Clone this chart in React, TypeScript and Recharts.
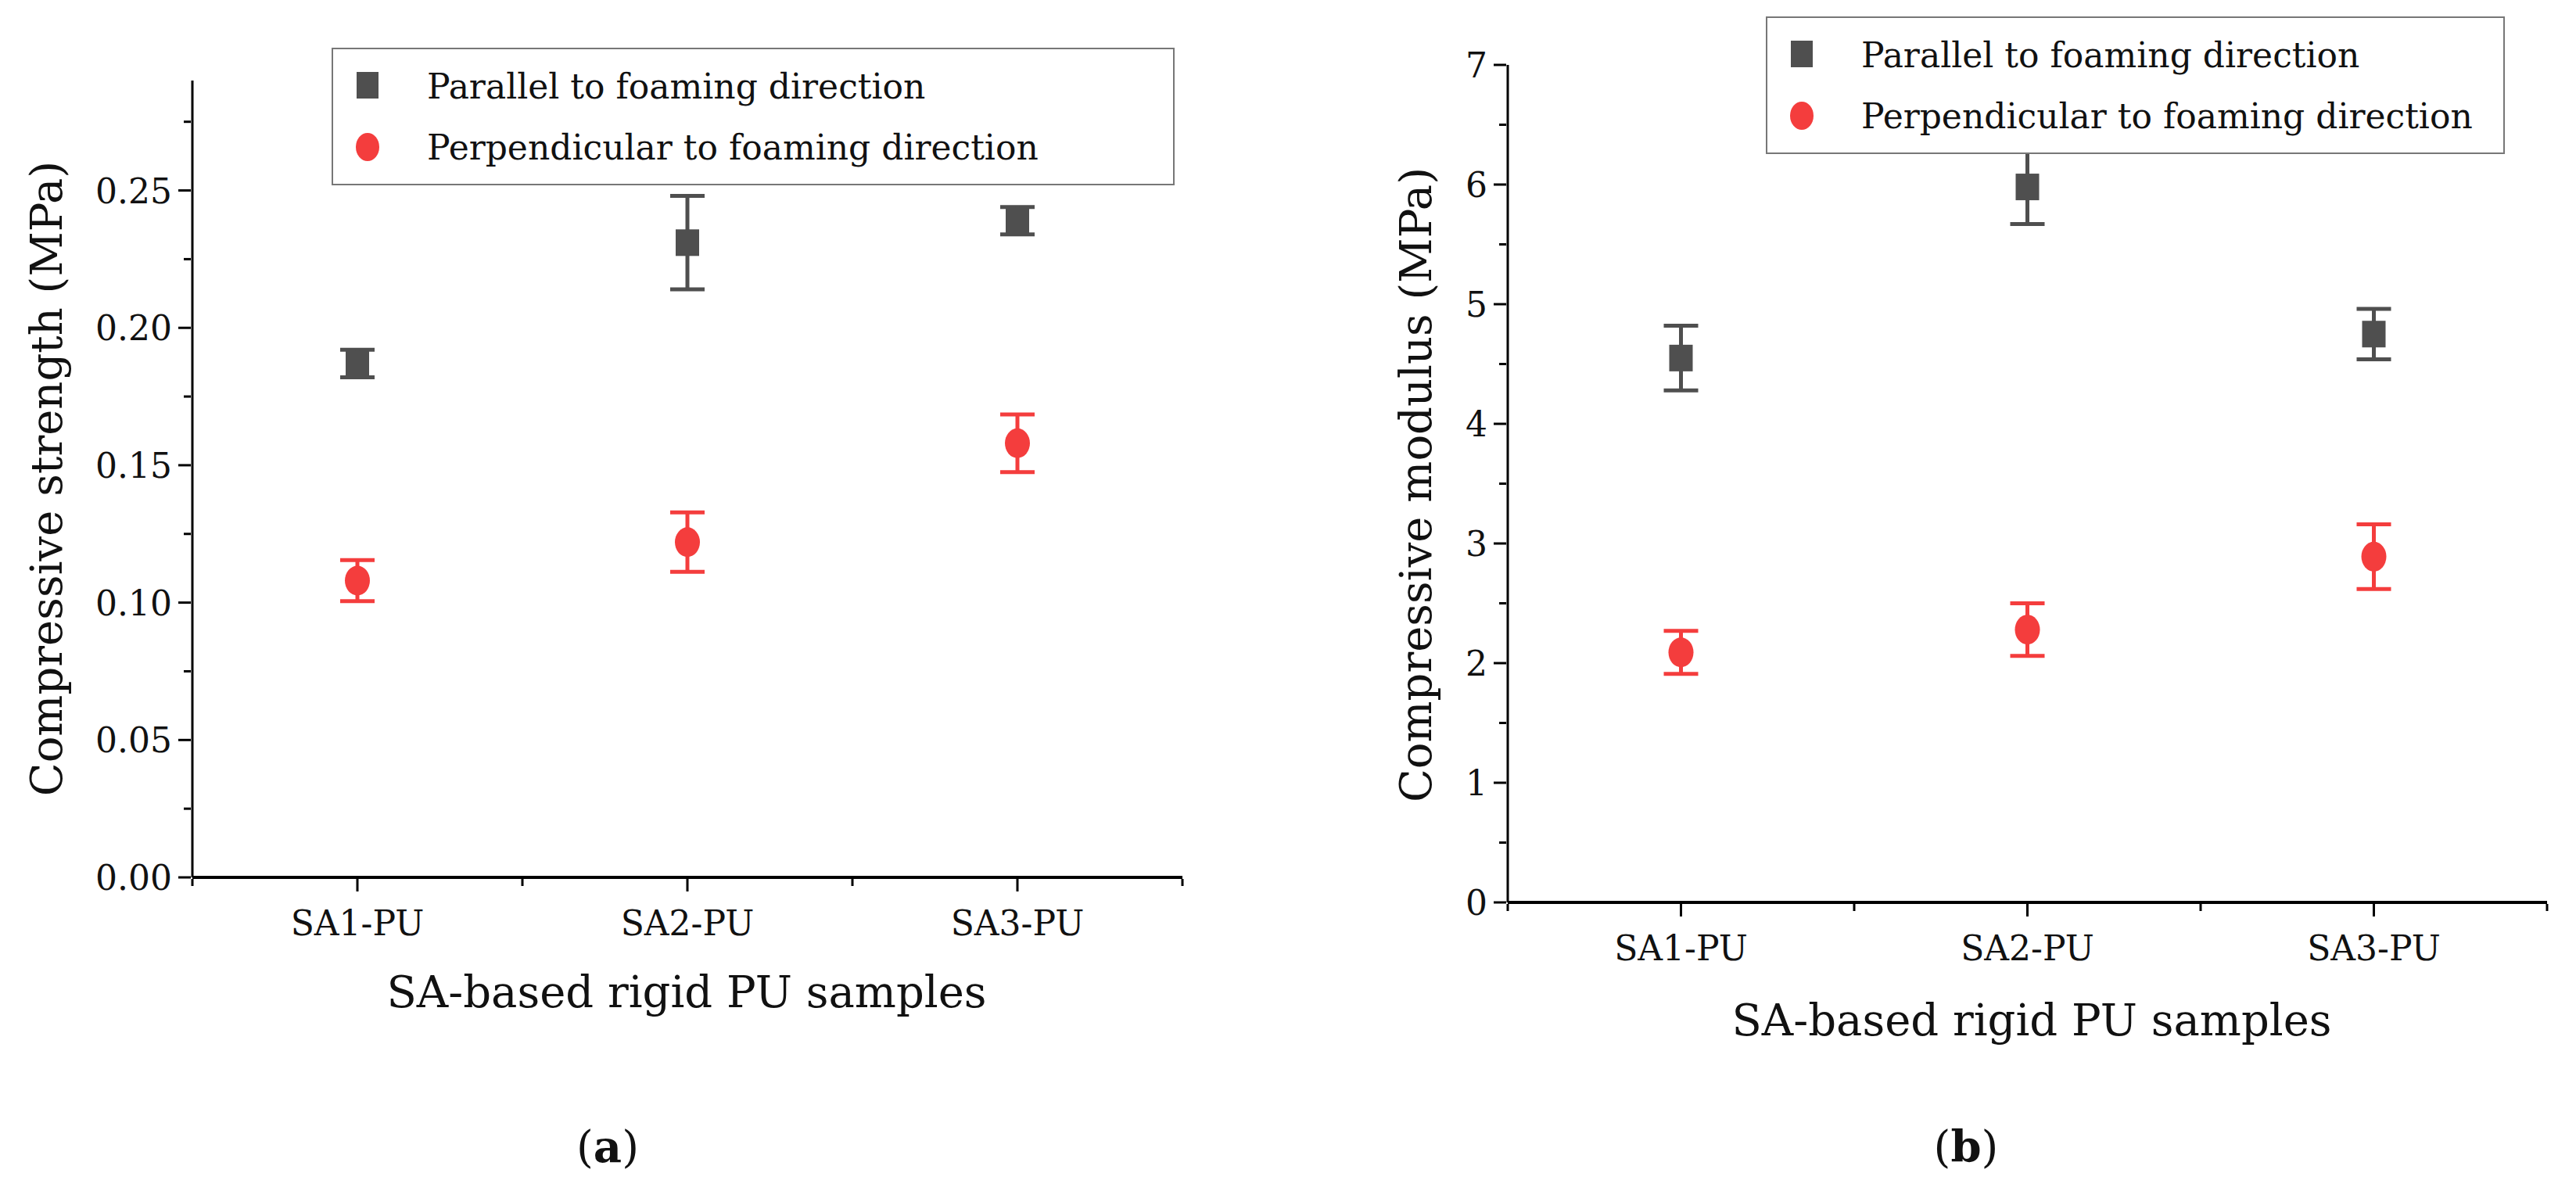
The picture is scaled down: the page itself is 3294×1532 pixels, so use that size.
import React from 'react';
import { ComposedChart, Scatter, XAxis, YAxis, ErrorBar } from 'recharts';

const samples = ['SA1-PU', 'SA2-PU', 'SA3-PU'];

const strengthParallel = [0.187, 0.231, 0.239];
const strengthParallelErr = [0.005, 0.017, 0.005];
const strengthPerp = [0.108, 0.122, 0.158];
const strengthPerpErr = [0.0075, 0.0108, 0.0105];

const modulusParallel = [4.55, 5.98, 4.75];
const modulusParallelErr = [0.27, 0.31, 0.21];
const modulusPerp = [2.09, 2.28, 2.89];
const modulusPerpErr = [0.18, 0.22, 0.27];

const strengthTicks = [0, 0.025, 0.05, 0.075, 0.1, 0.125, 0.15, 0.175, 0.2, 0.225, 0.25, 0.275];
const modulusTicks = [0, 0.5, 1, 1.5, 2, 2.5, 3, 3.5, 4, 4.5, 5, 5.5, 6, 6.5, 7];
const xTicks = [0.5, 1, 1.5, 2, 2.5, 3, 3.5];

const GREY = '#4f4f4f';
const RED = '#f43d3d';
const FONT = '"DejaVu Serif", serif';

const rows = (vals: number[], errs: number[]) =>
  vals.map((v, i) => ({ x: i + 1, y: v, err: errs[i] }));

const Square = (p: any) => (
  <rect x={p.cx - 15} y={p.cy - 17} width={30} height={34} fill={GREY} />
);
const Dot = (p: any) => <ellipse cx={p.cx} cy={p.cy} rx={16} ry={19} fill={RED} />;

const YTick = (fmt: (v: number) => string, isMajor: (v: number) => boolean) => (p: any) => {
  const v = p.payload.value;
  const major = isMajor(v);
  return (
    <g>
      <line x1={p.x} x2={p.x - (major ? 16 : 9)} y1={p.y} y2={p.y} stroke="#000" strokeWidth={3} />
      {major && (
        <text x={p.x - 24} y={p.y} dy={16} textAnchor="end" fontFamily={FONT} fontSize={44} fill="#111">
          {fmt(v)}
        </text>
      )}
    </g>
  );
};

const XTick = (p: any) => {
  const v = p.payload.value;
  const major = Number.isInteger(v);
  return (
    <g>
      <line x1={p.x} x2={p.x} y1={p.y} y2={p.y + (major ? 16 : 9)} stroke="#000" strokeWidth={3} />
      {major && (
        <text x={p.x} y={p.y + 72} textAnchor="middle" fontFamily={FONT} fontSize={44} fill="#111">
          {samples[v - 1]}
        </text>
      )}
    </g>
  );
};

const LegendBox = ({ left, top, w }: { left: number; top: number; w: number }) => (
  <div
    style={{
      position: 'absolute',
      left,
      top,
      width: w,
      border: '2px solid #777',
      background: '#fff',
      padding: '8px 0',
      fontFamily: FONT,
      fontSize: 44,
      color: '#111',
      whiteSpace: 'nowrap',
    }}
  >
    <div style={{ display: 'flex', alignItems: 'center', height: 78 }}>
      <svg width={90} height={40}><rect x={30} y={2} width={28} height={34} fill={GREY} /></svg>
      <span style={{ marginLeft: 30 }}>Parallel to foaming direction</span>
    </div>
    <div style={{ display: 'flex', alignItems: 'center', height: 78 }}>
      <svg width={90} height={40}><ellipse cx={44} cy={20} rx={15} ry={18} fill={RED} /></svg>
      <span style={{ marginLeft: 30 }}>Perpendicular to foaming direction</span>
    </div>
  </div>
);

type PanelProps = {
  left: number;
  width: number;
  margin: { top: number; right: number; bottom: number; left: number };
  domain: [number, number];
  ticks: number[];
  fmt: (v: number) => string;
  isMajor: (v: number) => boolean;
  par: any[];
  perp: any[];
};

const Panel = ({ left, width, margin, domain, ticks, fmt, isMajor, par, perp }: PanelProps) => (
  <div style={{ position: 'absolute', left, top: 0 }}>
    <ComposedChart width={width} height={1532} margin={margin}>
      <XAxis
        type="number"
        dataKey="x"
        domain={[0.5, 3.5]}
        ticks={xTicks}
        tick={<XTick />}
        tickLine={false}
        tickSize={0}
        height={1}
        axisLine={{ stroke: '#000', strokeWidth: 4 }}
        allowDataOverflow
      />
      <YAxis
        type="number"
        dataKey="y"
        domain={domain}
        ticks={ticks}
        tick={YTick(fmt, isMajor)}
        tickLine={false}
        tickSize={0}
        width={1}
        axisLine={{ stroke: '#000', strokeWidth: 3 }}
        allowDataOverflow
      />
      <Scatter data={par} name="Parallel to foaming direction" shape={Square} isAnimationActive={false}>
        <ErrorBar dataKey="err" direction="y" width={22} stroke={GREY} strokeWidth={5} />
      </Scatter>
      <Scatter data={perp} name="Perpendicular to foaming direction" shape={Dot} isAnimationActive={false}>
        <ErrorBar dataKey="err" direction="y" width={22} stroke={RED} strokeWidth={5} />
      </Scatter>
    </ComposedChart>
  </div>
);

const txt: React.CSSProperties = { position: 'absolute', fontFamily: FONT, color: '#111', whiteSpace: 'nowrap' };

export default function App() {
  return (
    <div style={{ position: 'absolute', left: 0, top: 0, width: 3294, height: 1532, background: '#fff' }}>
      <Panel
        left={0}
        width={1600}
        margin={{ top: 103, right: 88, bottom: 409, left: 245 }}
        domain={[0, 0.29]}
        ticks={strengthTicks}
        fmt={(v) => v.toFixed(2)}
        isMajor={(v) => Math.abs(Math.round(v * 20) - v * 20) < 1e-6}
        par={rows(strengthParallel, strengthParallelErr)}
        perp={rows(strengthPerp, strengthPerpErr)}
      />
      <Panel
        left={1650}
        width={1644}
        margin={{ top: 83, right: 37, bottom: 377, left: 277 }}
        domain={[0, 7]}
        ticks={modulusTicks}
        fmt={(v) => String(v)}
        isMajor={(v) => Number.isInteger(v)}
        par={rows(modulusParallel, modulusParallelErr)}
        perp={rows(modulusPerp, modulusPerpErr)}
      />
      <LegendBox left={424} top={61} w={1074} />
      <LegendBox left={2258} top={21} w={941} />
      <div style={{ ...txt, fontSize: 56, left: 59, top: 612, transform: 'translate(-50%,-50%) rotate(-90deg)' }}>
        Compressive strength (MPa)
      </div>
      <div style={{ ...txt, fontSize: 56, left: 1810, top: 620, transform: 'translate(-50%,-50%) rotate(-90deg)' }}>
        Compressive modulus (MPa)
      </div>
      <div style={{ ...txt, fontSize: 56, left: 878, top: 1268, transform: 'translate(-50%,-50%)' }}>
        SA-based rigid PU samples
      </div>
      <div style={{ ...txt, fontSize: 56, left: 2598, top: 1304, transform: 'translate(-50%,-50%)' }}>
        SA-based rigid PU samples
      </div>
      <div style={{ ...txt, fontSize: 56, left: 777, top: 1466, transform: 'translate(-50%,-50%)' }}>
        (<b>a</b>)
      </div>
      <div style={{ ...txt, fontSize: 56, left: 2514, top: 1466, transform: 'translate(-50%,-50%)' }}>
        (<b>b</b>)
      </div>
    </div>
  );
}
